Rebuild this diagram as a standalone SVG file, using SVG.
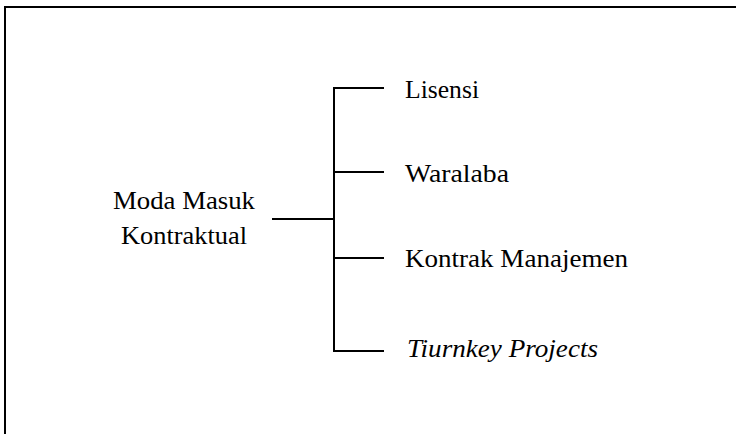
<svg xmlns="http://www.w3.org/2000/svg" width="736" height="434" viewBox="0 0 736 434">
  <style>
    .frame { fill: none; stroke: #000; stroke-width: 2; }
    .conn { fill: none; stroke: #000; stroke-width: 2; }
    .lbl { font-family: 'Liberation Serif', serif; font-size: 26px; fill: #000; }
    .it { font-style: italic; }
  </style>
  <rect width="736" height="434" fill="#fff"/>
  <!-- outer frame (open at right and bottom) -->
  <path class="frame" d="M5,434 V7 H736"/>
  <g id="connectors">
    <path class="conn" d="M272,219 H334"/>
    <path class="conn" d="M384,88 H334 V351 H384"/>
    <path class="conn" d="M334,172 H384"/>
    <path class="conn" d="M334,258 H384"/>
  </g>
  <g id="root">
    <text class="lbl" x="113" y="209" textLength="142" lengthAdjust="spacingAndGlyphs">Moda Masuk</text>
    <text class="lbl" x="121" y="244" textLength="126" lengthAdjust="spacingAndGlyphs">Kontraktual</text>
  </g>
  <g id="lisensi">
    <text class="lbl" x="405" y="98" textLength="74" lengthAdjust="spacingAndGlyphs">Lisensi</text>
  </g>
  <g id="waralaba">
    <text class="lbl" x="405" y="182" textLength="104" lengthAdjust="spacingAndGlyphs">Waralaba</text>
  </g>
  <g id="kontrak-manajemen">
    <text class="lbl" x="405" y="267" textLength="223" lengthAdjust="spacingAndGlyphs">Kontrak Manajemen</text>
  </g>
  <g id="turnkey">
    <text class="lbl it" x="407" y="357" textLength="191" lengthAdjust="spacingAndGlyphs">Tiurnkey Projects</text>
  </g>
</svg>
